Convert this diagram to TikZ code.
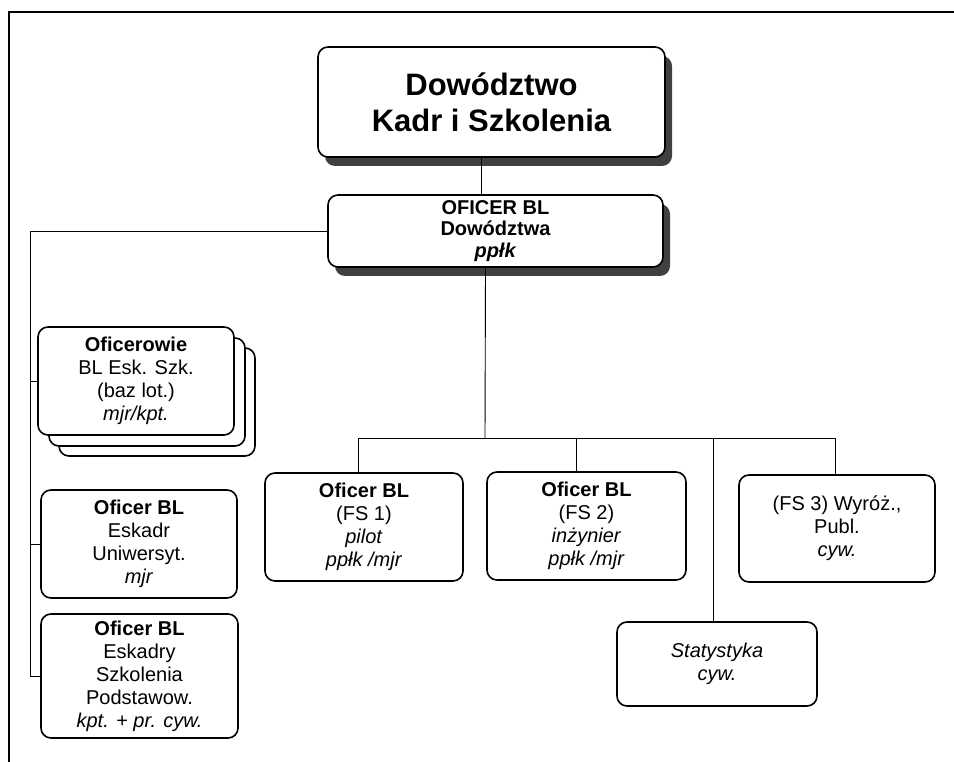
\documentclass[tikz,border=0pt]{standalone}
\usepackage{fontspec}
\setmainfont{Liberation Sans}
\usetikzlibrary{shadows}

\tikzset{
  ramka/.style={draw, line width=1.6pt, rounded corners=10pt, fill=white, align=center,
    inner sep=0pt, minimum width=197pt, minimum height=108pt, font=\fontsize{20}{23}\selectfont},
  cien/.style={drop shadow={shadow xshift=7pt, shadow yshift=-9pt, fill=black!75, opacity=1}},
  stos/.style={general shadow={shadow xshift=21pt, shadow yshift=-21pt, draw, fill=white},
    general shadow={shadow xshift=11pt, shadow yshift=-11pt, draw, fill=white}},
  linia/.style={line width=0.9pt}
}

\begin{document}
\begin{tikzpicture}[x=1pt,y=-1pt]

\fill[white] (0,0) rectangle (954,762);
\useasboundingbox (0,0) rectangle (954,762);
\draw[line width=2.5pt] (9,762)--(9,12)--(954,12);

\node[ramka, cien, minimum width=347pt, minimum height=110pt, font=\fontsize{31}{36}\selectfont\bfseries]
  (kadry) at (491.5,102) {Dowództwo\\Kadr i Szkolenia};
\node[ramka, cien, minimum width=335pt, minimum height=72pt, font=\fontsize{20}{21.5}\selectfont\bfseries]
  (dowodca) at (495.5,231) {OFICER BL\\Dowództwa\\\textit{ppłk}};

\node[ramka, stos, minimum width=196pt] (ofic) at (136,381)
  {\textbf{Oficerowie}\\BL Esk. Szk.\\(baz lot.)\\\textit{mjr/kpt.}};
\node[ramka, minimum width=196pt] (eskadr) at (139,544)
  {\textbf{Oficer BL}\\Eskadr\\Uniwersyt.\\\textit{mjr}};
\node[ramka, minimum height=124pt] (szkol) at (139.5,676)
  {\textbf{Oficer BL}\\Eskadry\\Szkolenia\\Podstawow.\\\textit{kpt. + pr. cyw.}};

\node[ramka, minimum width=198pt] (fs1) at (364,527)
  {\textbf{Oficer BL}\\(FS 1)\\\textit{pilot}\\\textit{ppłk /mjr}};
\node[ramka, minimum width=199pt] (fs2) at (586.5,526)
  {\textbf{Oficer BL}\\(FS 2)\\\textit{inżynier}\\\textit{ppłk /mjr}};
\node[ramka, minimum width=196pt, minimum height=107pt] (fs3) at (837,528.5)
  {(FS 3) Wyróż.,\\Publ.\\\textit{cyw.}};
\node[ramka, minimum width=200pt, minimum height=84pt] (stat) at (717,664)
  {\textit{Statystyka}\\\textit{cyw.}};

\coordinate (bus) at (485,438);
\coordinate (pion) at (30,0);

\draw[linia] ([xshift=-10pt]kadry.south) -- ([xshift=-10pt]kadry.south |- dowodca.north);
\draw[linia] ([xshift=-10pt]dowodca.south) -- (bus);
\draw[linia] ([xshift=-6pt]fs1.north) |- ([xshift=-2pt]fs3.north |- bus) -- ([xshift=-2pt]fs3.north);
\draw[linia] ([xshift=-10pt]fs2.north) -- ([xshift=-10pt]fs2.north |- bus);
\draw[linia] ([xshift=-4pt]stat.north) -- ([xshift=-4pt]stat.north |- bus);

\draw[linia] (dowodca.west) -| (pion |- szkol.west) -- (szkol.west);
\draw[linia] (pion |- ofic.west) -- (ofic.west);
\draw[linia] (pion |- eskadr.west) -- (eskadr.west);

\end{tikzpicture}
\end{document}
